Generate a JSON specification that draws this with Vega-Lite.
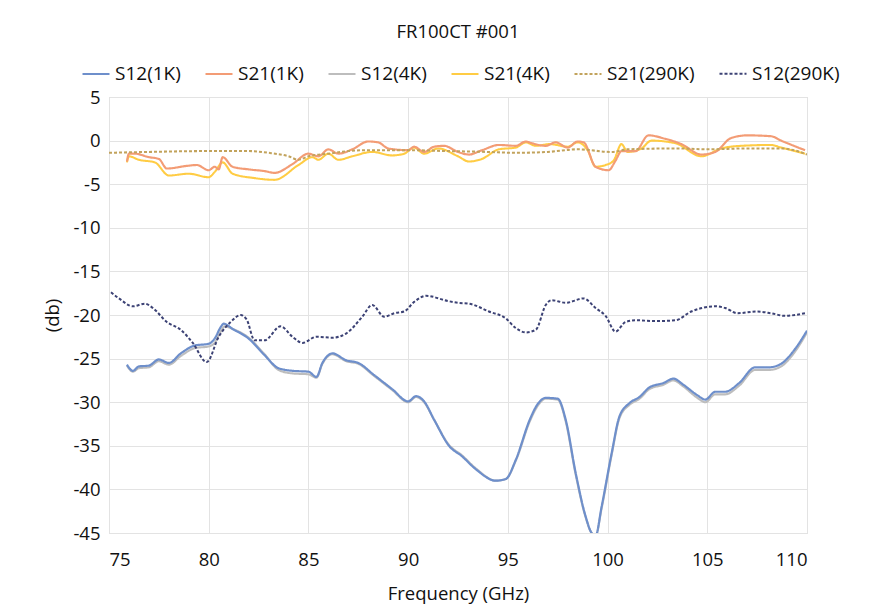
{
  "$schema": "https://vega.github.io/schema/vega-lite/v6.json",
  "autosize": {"type": "none"},
  "padding": {"left": 109, "top": 97, "right": 69, "bottom": 83},
  "width": 698,
  "height": 436,
  "background": "white",
  "title": {"text": "FR100CT #001", "anchor": "middle", "offset": 18, "fontSize": 18.5, "fontWeight": "normal", "font": "Open Sans", "color": "#111"},
  "data": {
    "values": [
      {"s": "S12(4K)", "f": 75.9, "v": -25.8}, {"s": "S12(4K)", "f": 76.2, "v": -26.5}, {"s": "S12(4K)", "f": 76.5, "v": -26.1}, {"s": "S12(4K)", "f": 77.0, "v": -26.0},
      {"s": "S12(4K)", "f": 77.5, "v": -25.3}, {"s": "S12(4K)", "f": 78.0, "v": -25.7}, {"s": "S12(4K)", "f": 78.6, "v": -24.7}, {"s": "S12(4K)", "f": 79.3, "v": -23.8},
      {"s": "S12(4K)", "f": 80.0, "v": -23.6}, {"s": "S12(4K)", "f": 80.3, "v": -23.2}, {"s": "S12(4K)", "f": 80.6, "v": -21.9}, {"s": "S12(4K)", "f": 80.8, "v": -21.3},
      {"s": "S12(4K)", "f": 81.2, "v": -21.6}, {"s": "S12(4K)", "f": 82.0, "v": -22.6}, {"s": "S12(4K)", "f": 82.8, "v": -24.5}, {"s": "S12(4K)", "f": 83.5, "v": -26.3},
      {"s": "S12(4K)", "f": 84.2, "v": -26.7}, {"s": "S12(4K)", "f": 85.0, "v": -26.8}, {"s": "S12(4K)", "f": 85.4, "v": -27.2}, {"s": "S12(4K)", "f": 85.7, "v": -25.6},
      {"s": "S12(4K)", "f": 86.0, "v": -24.7}, {"s": "S12(4K)", "f": 86.2, "v": -24.5}, {"s": "S12(4K)", "f": 86.9, "v": -25.3}, {"s": "S12(4K)", "f": 87.5, "v": -25.6},
      {"s": "S12(4K)", "f": 88.3, "v": -27.0}, {"s": "S12(4K)", "f": 89.2, "v": -28.6}, {"s": "S12(4K)", "f": 90.0, "v": -30.0}, {"s": "S12(4K)", "f": 90.4, "v": -29.4},
      {"s": "S12(4K)", "f": 90.8, "v": -30.0}, {"s": "S12(4K)", "f": 91.3, "v": -32.0}, {"s": "S12(4K)", "f": 92.05, "v": -34.9}, {"s": "S12(4K)", "f": 92.7, "v": -36.1},
      {"s": "S12(4K)", "f": 93.4, "v": -37.6}, {"s": "S12(4K)", "f": 94.4, "v": -39.0}, {"s": "S12(4K)", "f": 94.9, "v": -38.8}, {"s": "S12(4K)", "f": 95.4, "v": -36.7},
      {"s": "S12(4K)", "f": 96.1, "v": -32.2}, {"s": "S12(4K)", "f": 96.5, "v": -30.4}, {"s": "S12(4K)", "f": 96.9, "v": -29.6}, {"s": "S12(4K)", "f": 97.5, "v": -29.7},
      {"s": "S12(4K)", "f": 97.9, "v": -32.2}, {"s": "S12(4K)", "f": 98.4, "v": -38.3}, {"s": "S12(4K)", "f": 98.9, "v": -43.2}, {"s": "S12(4K)", "f": 99.2, "v": -45.0},
      {"s": "S12(4K)", "f": 99.4, "v": -45.3}, {"s": "S12(4K)", "f": 99.7, "v": -42.2}, {"s": "S12(4K)", "f": 100.2, "v": -36.1}, {"s": "S12(4K)", "f": 100.6, "v": -31.8},
      {"s": "S12(4K)", "f": 101.1, "v": -30.3}, {"s": "S12(4K)", "f": 101.6, "v": -29.6}, {"s": "S12(4K)", "f": 102.1, "v": -28.5}, {"s": "S12(4K)", "f": 102.8, "v": -28.0},
      {"s": "S12(4K)", "f": 103.3, "v": -27.5}, {"s": "S12(4K)", "f": 103.8, "v": -28.2}, {"s": "S12(4K)", "f": 104.5, "v": -29.5}, {"s": "S12(4K)", "f": 104.9, "v": -30.0},
      {"s": "S12(4K)", "f": 105.4, "v": -29.1}, {"s": "S12(4K)", "f": 105.9, "v": -29.1}, {"s": "S12(4K)", "f": 106.6, "v": -28.1}, {"s": "S12(4K)", "f": 107.4, "v": -26.3},
      {"s": "S12(4K)", "f": 108.1, "v": -26.3}, {"s": "S12(4K)", "f": 108.7, "v": -25.9}, {"s": "S12(4K)", "f": 109.4, "v": -24.2}, {"s": "S12(4K)", "f": 110.0, "v": -22.0},

      {"s": "S12(1K)", "f": 75.9, "v": -25.7}, {"s": "S12(1K)", "f": 76.2, "v": -26.4}, {"s": "S12(1K)", "f": 76.5, "v": -25.9}, {"s": "S12(1K)", "f": 77.0, "v": -25.8},
      {"s": "S12(1K)", "f": 77.5, "v": -25.1}, {"s": "S12(1K)", "f": 78.0, "v": -25.5}, {"s": "S12(1K)", "f": 78.6, "v": -24.4}, {"s": "S12(1K)", "f": 79.3, "v": -23.5},
      {"s": "S12(1K)", "f": 80.0, "v": -23.3}, {"s": "S12(1K)", "f": 80.3, "v": -22.7}, {"s": "S12(1K)", "f": 80.6, "v": -21.4}, {"s": "S12(1K)", "f": 80.75, "v": -21.0},
      {"s": "S12(1K)", "f": 81.2, "v": -21.6}, {"s": "S12(1K)", "f": 82.0, "v": -22.7}, {"s": "S12(1K)", "f": 82.8, "v": -24.6}, {"s": "S12(1K)", "f": 83.5, "v": -26.1},
      {"s": "S12(1K)", "f": 84.2, "v": -26.4}, {"s": "S12(1K)", "f": 85.0, "v": -26.5}, {"s": "S12(1K)", "f": 85.4, "v": -27.1}, {"s": "S12(1K)", "f": 85.7, "v": -25.5},
      {"s": "S12(1K)", "f": 86.0, "v": -24.6}, {"s": "S12(1K)", "f": 86.2, "v": -24.4}, {"s": "S12(1K)", "f": 86.9, "v": -25.2}, {"s": "S12(1K)", "f": 87.5, "v": -25.5},
      {"s": "S12(1K)", "f": 88.3, "v": -26.9}, {"s": "S12(1K)", "f": 89.2, "v": -28.5}, {"s": "S12(1K)", "f": 90.0, "v": -29.9}, {"s": "S12(1K)", "f": 90.4, "v": -29.3},
      {"s": "S12(1K)", "f": 90.8, "v": -29.9}, {"s": "S12(1K)", "f": 91.3, "v": -32.0}, {"s": "S12(1K)", "f": 92.05, "v": -35.0}, {"s": "S12(1K)", "f": 92.7, "v": -36.2},
      {"s": "S12(1K)", "f": 93.4, "v": -37.7}, {"s": "S12(1K)", "f": 94.4, "v": -39.0}, {"s": "S12(1K)", "f": 94.9, "v": -38.8}, {"s": "S12(1K)", "f": 95.4, "v": -36.6},
      {"s": "S12(1K)", "f": 96.1, "v": -32.0}, {"s": "S12(1K)", "f": 96.5, "v": -30.2}, {"s": "S12(1K)", "f": 96.9, "v": -29.5}, {"s": "S12(1K)", "f": 97.5, "v": -29.6},
      {"s": "S12(1K)", "f": 97.9, "v": -32.0}, {"s": "S12(1K)", "f": 98.4, "v": -38.1}, {"s": "S12(1K)", "f": 98.9, "v": -43.1}, {"s": "S12(1K)", "f": 99.2, "v": -45.0},
      {"s": "S12(1K)", "f": 99.4, "v": -45.3}, {"s": "S12(1K)", "f": 99.7, "v": -42.0}, {"s": "S12(1K)", "f": 100.2, "v": -35.9}, {"s": "S12(1K)", "f": 100.6, "v": -31.6},
      {"s": "S12(1K)", "f": 101.1, "v": -30.1}, {"s": "S12(1K)", "f": 101.6, "v": -29.4}, {"s": "S12(1K)", "f": 102.1, "v": -28.3}, {"s": "S12(1K)", "f": 102.8, "v": -27.8},
      {"s": "S12(1K)", "f": 103.3, "v": -27.3}, {"s": "S12(1K)", "f": 103.8, "v": -28.0}, {"s": "S12(1K)", "f": 104.5, "v": -29.2}, {"s": "S12(1K)", "f": 104.9, "v": -29.7},
      {"s": "S12(1K)", "f": 105.4, "v": -28.8}, {"s": "S12(1K)", "f": 105.9, "v": -28.8}, {"s": "S12(1K)", "f": 106.6, "v": -27.8}, {"s": "S12(1K)", "f": 107.4, "v": -26.0},
      {"s": "S12(1K)", "f": 108.1, "v": -26.0}, {"s": "S12(1K)", "f": 108.7, "v": -25.6}, {"s": "S12(1K)", "f": 109.4, "v": -23.9}, {"s": "S12(1K)", "f": 110.0, "v": -21.8},

      {"s": "S21(4K)", "f": 75.9, "v": -2.5}, {"s": "S21(4K)", "f": 76.0, "v": -1.8}, {"s": "S21(4K)", "f": 76.5, "v": -2.2}, {"s": "S21(4K)", "f": 77.3, "v": -2.5},
      {"s": "S21(4K)", "f": 78.0, "v": -4.0}, {"s": "S21(4K)", "f": 79.0, "v": -3.8}, {"s": "S21(4K)", "f": 80.0, "v": -4.2}, {"s": "S21(4K)", "f": 80.3, "v": -3.6},
      {"s": "S21(4K)", "f": 80.7, "v": -2.5}, {"s": "S21(4K)", "f": 81.2, "v": -3.8}, {"s": "S21(4K)", "f": 82.3, "v": -4.3}, {"s": "S21(4K)", "f": 83.3, "v": -4.5},
      {"s": "S21(4K)", "f": 84.5, "v": -2.8}, {"s": "S21(4K)", "f": 85.2, "v": -1.9}, {"s": "S21(4K)", "f": 85.5, "v": -2.2}, {"s": "S21(4K)", "f": 86.0, "v": -1.5},
      {"s": "S21(4K)", "f": 86.5, "v": -2.2}, {"s": "S21(4K)", "f": 87.2, "v": -1.8}, {"s": "S21(4K)", "f": 88.2, "v": -1.3}, {"s": "S21(4K)", "f": 89.2, "v": -1.7},
      {"s": "S21(4K)", "f": 89.8, "v": -1.5}, {"s": "S21(4K)", "f": 90.3, "v": -0.8}, {"s": "S21(4K)", "f": 90.8, "v": -1.5}, {"s": "S21(4K)", "f": 91.5, "v": -0.9},
      {"s": "S21(4K)", "f": 92.5, "v": -1.8}, {"s": "S21(4K)", "f": 93.05, "v": -2.4}, {"s": "S21(4K)", "f": 93.7, "v": -2.1}, {"s": "S21(4K)", "f": 94.55, "v": -1.0},
      {"s": "S21(4K)", "f": 95.4, "v": -0.8}, {"s": "S21(4K)", "f": 95.9, "v": -0.2}, {"s": "S21(4K)", "f": 96.4, "v": -0.6}, {"s": "S21(4K)", "f": 97.1, "v": -0.4},
      {"s": "S21(4K)", "f": 98.0, "v": -0.7}, {"s": "S21(4K)", "f": 98.5, "v": -0.2}, {"s": "S21(4K)", "f": 99.0, "v": -1.1}, {"s": "S21(4K)", "f": 99.4, "v": -3.0},
      {"s": "S21(4K)", "f": 99.9, "v": -2.8}, {"s": "S21(4K)", "f": 100.3, "v": -2.3}, {"s": "S21(4K)", "f": 100.7, "v": -0.4}, {"s": "S21(4K)", "f": 101.0, "v": -1.3},
      {"s": "S21(4K)", "f": 101.7, "v": -0.9}, {"s": "S21(4K)", "f": 102.2, "v": 0.0}, {"s": "S21(4K)", "f": 103.4, "v": -0.3}, {"s": "S21(4K)", "f": 104.7, "v": -1.8},
      {"s": "S21(4K)", "f": 105.7, "v": -0.9}, {"s": "S21(4K)", "f": 106.7, "v": -0.6}, {"s": "S21(4K)", "f": 108.2, "v": -0.5}, {"s": "S21(4K)", "f": 108.7, "v": -0.8},
      {"s": "S21(4K)", "f": 109.9, "v": -1.5},

      {"s": "S21(1K)", "f": 75.9, "v": -2.4}, {"s": "S21(1K)", "f": 76.0, "v": -1.5}, {"s": "S21(1K)", "f": 76.3, "v": -1.5}, {"s": "S21(1K)", "f": 77.0, "v": -1.9},
      {"s": "S21(1K)", "f": 77.5, "v": -2.1}, {"s": "S21(1K)", "f": 77.9, "v": -3.2}, {"s": "S21(1K)", "f": 78.9, "v": -2.9}, {"s": "S21(1K)", "f": 79.4, "v": -2.8},
      {"s": "S21(1K)", "f": 80.0, "v": -3.4}, {"s": "S21(1K)", "f": 80.3, "v": -3.0}, {"s": "S21(1K)", "f": 80.5, "v": -3.3}, {"s": "S21(1K)", "f": 80.7, "v": -1.9},
      {"s": "S21(1K)", "f": 81.2, "v": -3.0}, {"s": "S21(1K)", "f": 82.0, "v": -3.3}, {"s": "S21(1K)", "f": 82.8, "v": -3.5}, {"s": "S21(1K)", "f": 83.3, "v": -3.7},
      {"s": "S21(1K)", "f": 84.2, "v": -2.7}, {"s": "S21(1K)", "f": 85.0, "v": -1.5}, {"s": "S21(1K)", "f": 85.5, "v": -1.8}, {"s": "S21(1K)", "f": 86.0, "v": -1.0},
      {"s": "S21(1K)", "f": 86.5, "v": -1.5}, {"s": "S21(1K)", "f": 87.2, "v": -1.0}, {"s": "S21(1K)", "f": 88.0, "v": -0.1}, {"s": "S21(1K)", "f": 88.5, "v": -0.2},
      {"s": "S21(1K)", "f": 89.0, "v": -0.9}, {"s": "S21(1K)", "f": 90.0, "v": -1.1}, {"s": "S21(1K)", "f": 90.3, "v": -0.7}, {"s": "S21(1K)", "f": 90.8, "v": -1.3},
      {"s": "S21(1K)", "f": 91.3, "v": -0.7}, {"s": "S21(1K)", "f": 91.8, "v": -0.6}, {"s": "S21(1K)", "f": 92.5, "v": -1.3}, {"s": "S21(1K)", "f": 93.05, "v": -1.6},
      {"s": "S21(1K)", "f": 93.7, "v": -1.1}, {"s": "S21(1K)", "f": 94.55, "v": -0.5}, {"s": "S21(1K)", "f": 95.4, "v": -0.6}, {"s": "S21(1K)", "f": 95.9, "v": -0.1},
      {"s": "S21(1K)", "f": 96.2, "v": -0.3}, {"s": "S21(1K)", "f": 96.9, "v": -0.6}, {"s": "S21(1K)", "f": 97.4, "v": -0.2}, {"s": "S21(1K)", "f": 98.0, "v": -0.8},
      {"s": "S21(1K)", "f": 98.5, "v": -0.1}, {"s": "S21(1K)", "f": 98.8, "v": -0.2}, {"s": "S21(1K)", "f": 99.4, "v": -3.0}, {"s": "S21(1K)", "f": 100.05, "v": -3.4},
      {"s": "S21(1K)", "f": 100.4, "v": -2.3}, {"s": "S21(1K)", "f": 100.7, "v": -1.2}, {"s": "S21(1K)", "f": 101.4, "v": -1.2}, {"s": "S21(1K)", "f": 102.05, "v": 0.6},
      {"s": "S21(1K)", "f": 102.9, "v": 0.2}, {"s": "S21(1K)", "f": 103.7, "v": -0.4}, {"s": "S21(1K)", "f": 104.7, "v": -1.6}, {"s": "S21(1K)", "f": 105.4, "v": -1.3},
      {"s": "S21(1K)", "f": 106.2, "v": 0.3}, {"s": "S21(1K)", "f": 107.0, "v": 0.6}, {"s": "S21(1K)", "f": 108.2, "v": 0.5}, {"s": "S21(1K)", "f": 108.7, "v": 0.0},
      {"s": "S21(1K)", "f": 109.9, "v": -1.1},

      {"s": "S21(290K)", "f": 75.0, "v": -1.4}, {"s": "S21(290K)", "f": 77.0, "v": -1.3}, {"s": "S21(290K)", "f": 80.0, "v": -1.2}, {"s": "S21(290K)", "f": 82.0, "v": -1.2},
      {"s": "S21(290K)", "f": 83.0, "v": -1.4}, {"s": "S21(290K)", "f": 84.0, "v": -1.8}, {"s": "S21(290K)", "f": 84.5, "v": -2.2}, {"s": "S21(290K)", "f": 85.0, "v": -1.8},
      {"s": "S21(290K)", "f": 86.0, "v": -1.5}, {"s": "S21(290K)", "f": 87.0, "v": -1.2}, {"s": "S21(290K)", "f": 88.0, "v": -1.1}, {"s": "S21(290K)", "f": 90.0, "v": -1.1},
      {"s": "S21(290K)", "f": 92.0, "v": -1.2}, {"s": "S21(290K)", "f": 94.0, "v": -1.3}, {"s": "S21(290K)", "f": 95.4, "v": -1.4}, {"s": "S21(290K)", "f": 97.0, "v": -1.3},
      {"s": "S21(290K)", "f": 98.5, "v": -1.0}, {"s": "S21(290K)", "f": 100.2, "v": -1.3}, {"s": "S21(290K)", "f": 101.0, "v": -1.0}, {"s": "S21(290K)", "f": 103.5, "v": -0.9},
      {"s": "S21(290K)", "f": 105.0, "v": -1.0}, {"s": "S21(290K)", "f": 107.0, "v": -0.9}, {"s": "S21(290K)", "f": 108.7, "v": -0.9}, {"s": "S21(290K)", "f": 109.5, "v": -1.2},
      {"s": "S21(290K)", "f": 110.0, "v": -1.6},

      {"s": "S12(290K)", "f": 75.1, "v": -17.4}, {"s": "S12(290K)", "f": 75.5, "v": -18.1}, {"s": "S12(290K)", "f": 76.2, "v": -19.0}, {"s": "S12(290K)", "f": 76.8, "v": -18.7},
      {"s": "S12(290K)", "f": 77.2, "v": -19.2}, {"s": "S12(290K)", "f": 77.9, "v": -20.8}, {"s": "S12(290K)", "f": 78.6, "v": -21.7}, {"s": "S12(290K)", "f": 79.2, "v": -23.2},
      {"s": "S12(290K)", "f": 79.9, "v": -25.4}, {"s": "S12(290K)", "f": 80.5, "v": -22.5}, {"s": "S12(290K)", "f": 81.1, "v": -20.8}, {"s": "S12(290K)", "f": 81.6, "v": -20.0},
      {"s": "S12(290K)", "f": 81.9, "v": -20.5}, {"s": "S12(290K)", "f": 82.3, "v": -22.9}, {"s": "S12(290K)", "f": 82.8, "v": -22.9}, {"s": "S12(290K)", "f": 83.6, "v": -21.3},
      {"s": "S12(290K)", "f": 84.2, "v": -22.5}, {"s": "S12(290K)", "f": 84.7, "v": -23.2}, {"s": "S12(290K)", "f": 85.4, "v": -22.5}, {"s": "S12(290K)", "f": 86.2, "v": -22.6},
      {"s": "S12(290K)", "f": 86.9, "v": -22.1}, {"s": "S12(290K)", "f": 87.7, "v": -20.2}, {"s": "S12(290K)", "f": 88.2, "v": -18.85}, {"s": "S12(290K)", "f": 88.8, "v": -20.2},
      {"s": "S12(290K)", "f": 89.3, "v": -19.8}, {"s": "S12(290K)", "f": 89.8, "v": -19.6}, {"s": "S12(290K)", "f": 90.3, "v": -18.5}, {"s": "S12(290K)", "f": 90.9, "v": -17.8},
      {"s": "S12(290K)", "f": 92.0, "v": -18.4}, {"s": "S12(290K)", "f": 92.5, "v": -18.6}, {"s": "S12(290K)", "f": 93.05, "v": -18.7}, {"s": "S12(290K)", "f": 94.05, "v": -19.6},
      {"s": "S12(290K)", "f": 94.9, "v": -20.4}, {"s": "S12(290K)", "f": 95.4, "v": -21.5}, {"s": "S12(290K)", "f": 95.9, "v": -22.0}, {"s": "S12(290K)", "f": 96.4, "v": -21.7},
      {"s": "S12(290K)", "f": 96.9, "v": -18.85}, {"s": "S12(290K)", "f": 97.2, "v": -18.3}, {"s": "S12(290K)", "f": 97.9, "v": -18.6}, {"s": "S12(290K)", "f": 98.8, "v": -18.1},
      {"s": "S12(290K)", "f": 99.4, "v": -19.2}, {"s": "S12(290K)", "f": 99.9, "v": -20.1}, {"s": "S12(290K)", "f": 100.4, "v": -21.9}, {"s": "S12(290K)", "f": 100.9, "v": -20.8},
      {"s": "S12(290K)", "f": 101.4, "v": -20.6}, {"s": "S12(290K)", "f": 102.4, "v": -20.7}, {"s": "S12(290K)", "f": 103.4, "v": -20.6}, {"s": "S12(290K)", "f": 104.2, "v": -19.6},
      {"s": "S12(290K)", "f": 105.4, "v": -19.0}, {"s": "S12(290K)", "f": 105.9, "v": -19.2}, {"s": "S12(290K)", "f": 106.5, "v": -19.8}, {"s": "S12(290K)", "f": 107.5, "v": -19.6},
      {"s": "S12(290K)", "f": 108.2, "v": -19.8}, {"s": "S12(290K)", "f": 108.9, "v": -20.1}, {"s": "S12(290K)", "f": 109.4, "v": -20.0}, {"s": "S12(290K)", "f": 109.9, "v": -19.8}
    ]
  },
  "mark": {"type": "line", "interpolate": "monotone", "clip": true},
  "encoding": {
    "x": {
      "field": "f",
      "type": "quantitative",
      "scale": {"domain": [75, 110], "nice": false},
      "axis": {"title": "Frequency (GHz)", "values": [75, 80, 85, 90, 95, 100, 105, 110], "labelPadding": 17, "titlePadding": 16}
    },
    "y": {
      "field": "v",
      "type": "quantitative",
      "scale": {"domain": [-45, 5], "nice": false},
      "axis": {"title": "(db)", "values": [5, 0, -5, -10, -15, -20, -25, -30, -35, -40, -45], "labelExpr": "replace(datum.label, '−', '-')", "labelPadding": 9, "titlePadding": 10}
    },
    "color": {
      "field": "s",
      "type": "nominal",
      "title": null,
      "scale": {
        "domain": ["S12(1K)", "S21(1K)", "S12(4K)", "S21(4K)", "S21(290K)", "S12(290K)"],
        "range": ["#6E8FCB", "#F39C75", "#BDBDBD", "#FFCC44", "#C2A35C", "#3C4275"]
      },
      "legend": {
        "orient": "none", "legendX": -28, "legendY": -38, "direction": "horizontal", "columns": 6,
        "symbolType": "stroke", "symbolSize": 729, "symbolStrokeWidth": 2.5, "labelOffset": 4, "columnPadding": 20,
        "labelFontSize": 19, "labelFont": "Open Sans", "labelColor": "#111"
      }
    },
    "strokeDash": {
      "field": "s",
      "type": "nominal",
      "title": null,
      "scale": {
        "domain": ["S12(1K)", "S21(1K)", "S12(4K)", "S21(4K)", "S21(290K)", "S12(290K)"],
        "range": [[1, 0], [1, 0], [1, 0], [1, 0], [3, 2], [3, 2]]
      }
    },
    "strokeWidth": {
      "field": "s",
      "type": "nominal",
      "scale": {
        "domain": ["S12(1K)", "S21(1K)", "S12(4K)", "S21(4K)", "S21(290K)", "S12(290K)"],
        "range": [2.2, 2, 2.2, 2, 3, 3.2]
      },
      "legend": null
    }
  },
  "config": {
    "view": {"stroke": "#d9d9d9"},
    "axis": {
      "labelFont": "Open Sans", "labelFontSize": 18.5, "labelColor": "#111",
      "titleFont": "Open Sans", "titleFontSize": 18.5, "titleFontWeight": "normal", "titleColor": "#111",
      "ticks": false, "domain": false, "gridColor": "#e3e3e3"
    }
  }
}
